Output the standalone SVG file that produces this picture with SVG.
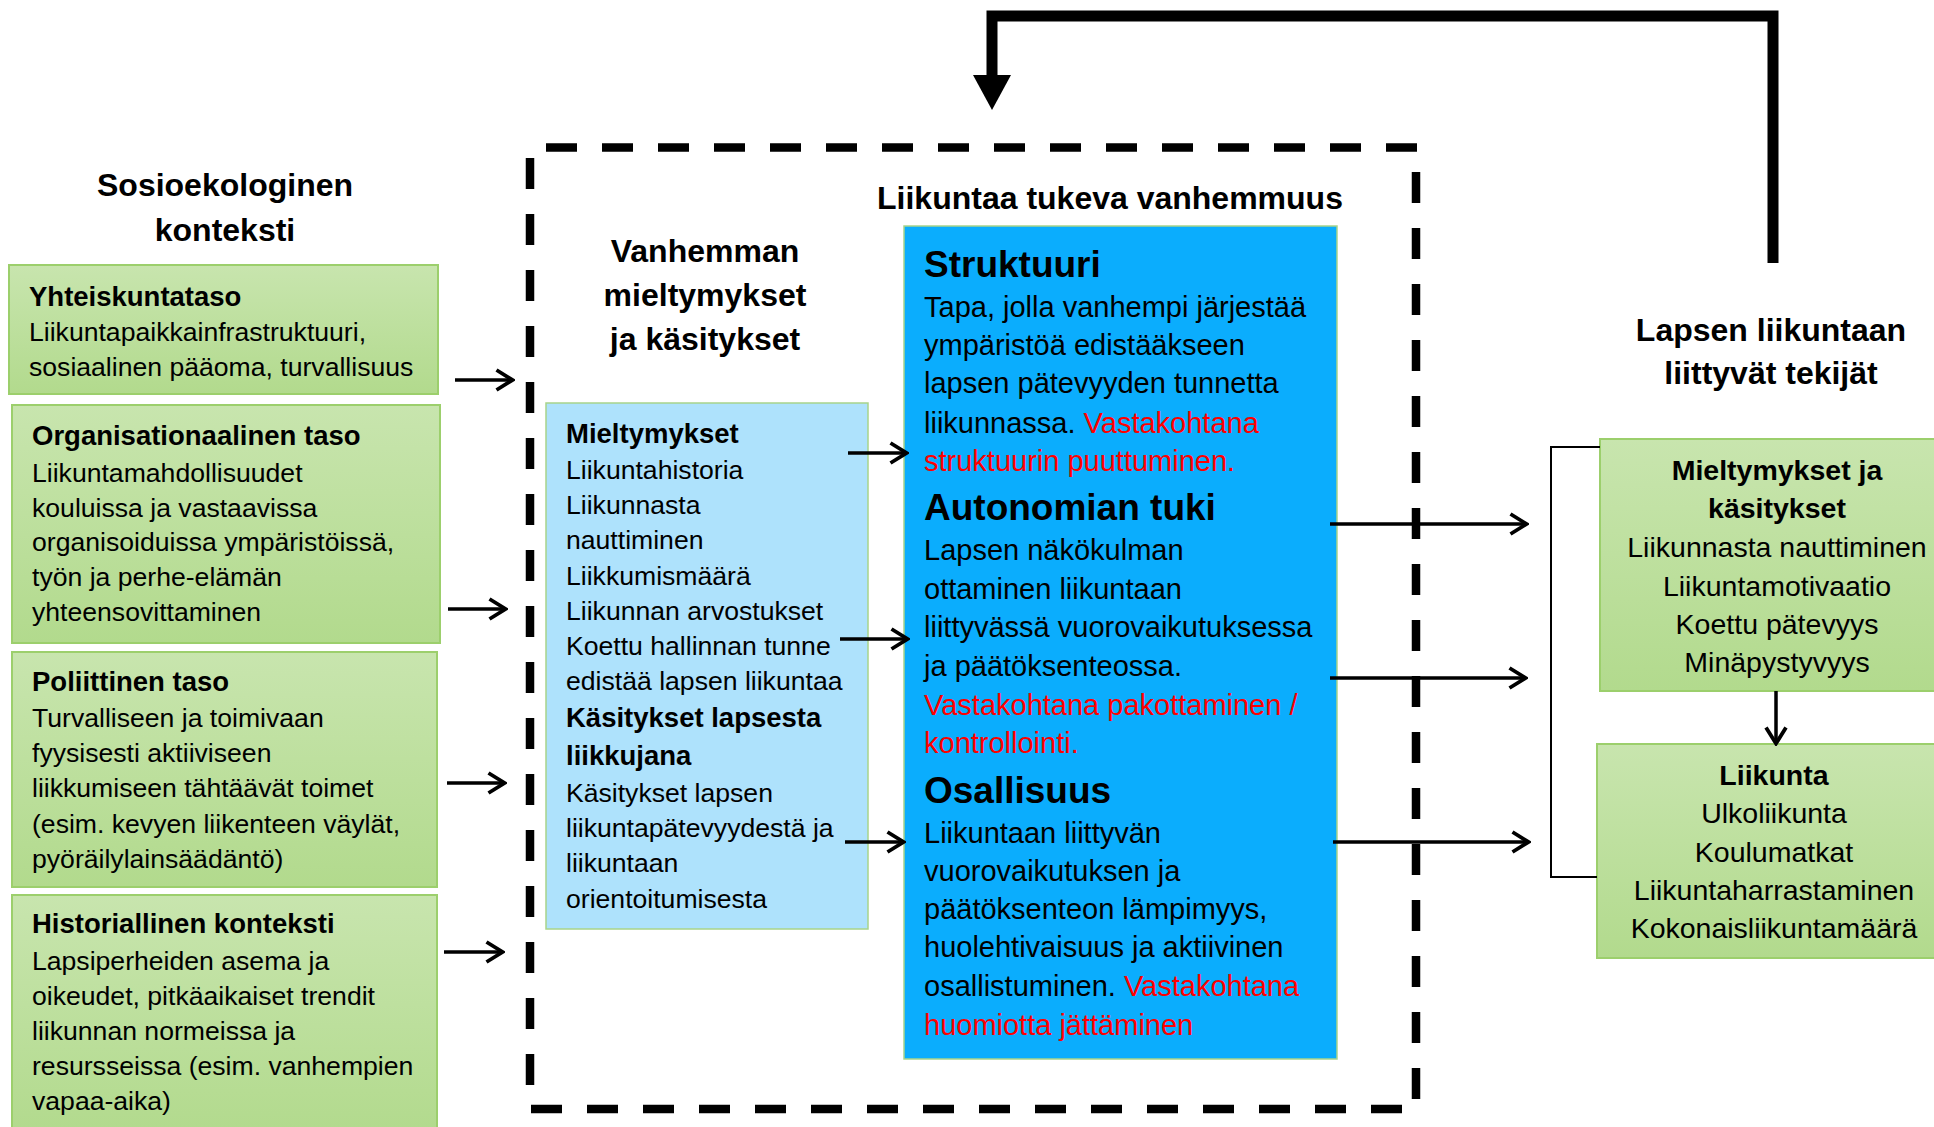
<svg xmlns="http://www.w3.org/2000/svg" width="1934" height="1127" viewBox="0 0 1934 1127">
<style>
text{font-family:"Liberation Sans",Arial,sans-serif;fill:#000}
.t{font-size:32px;font-weight:bold}
.h{font-size:27.5px;font-weight:bold}
.b{font-size:26.6px}
.bb{font-size:29px}
.bh{font-size:37px;font-weight:bold}
.rh{font-size:28.5px;font-weight:bold}
.rb{font-size:28.5px}
.red{fill:#FF0000}
.g{fill:url(#gr);stroke:#9CCF6C;stroke-width:2}
.dash{fill:none;stroke:#000;stroke-width:8.5;stroke-dasharray:31 25}
.ar{fill:none;stroke:#000;stroke-width:3.5;marker-end:url(#chev)}
</style>
<defs>
<linearGradient id="gr" x1="0" y1="0" x2="0" y2="1">
<stop offset="0" stop-color="#C8E5AE"/>
<stop offset="1" stop-color="#B2DA8D"/>
</linearGradient>
<marker id="chev" viewBox="0 0 20 24" refX="18.5" refY="12" markerWidth="20" markerHeight="24" orient="auto" markerUnits="userSpaceOnUse">
<path d="M2,2 L18,12 L2,22" fill="none" stroke="#000" stroke-width="3.8"/>
</marker>
</defs>
<rect width="1934" height="1127" fill="#fff"/>

<g id="title-socio">
<text class="t" x="225" y="196" text-anchor="middle">Sosioekologinen</text>
<text class="t" x="225" y="241" text-anchor="middle">konteksti</text>
</g>

<g id="node-yhteiskunta">
<rect class="g" x="9" y="265" width="429" height="129"/>
<text class="h" x="29" y="306">Yhteiskuntataso</text>
<text class="b" x="29" y="341">Liikuntapaikkainfrastruktuuri,</text>
<text class="b" x="29" y="376">sosiaalinen pääoma, turvallisuus</text>
</g>

<g id="node-organisaatio">
<rect class="g" x="12" y="405" width="428" height="238"/>
<text class="h" x="32" y="445">Organisationaalinen taso</text>
<text class="b" x="32" y="482">Liikuntamahdollisuudet</text>
<text class="b" x="32" y="517">kouluissa ja vastaavissa</text>
<text class="b" x="32" y="551">organisoiduissa ympäristöissä,</text>
<text class="b" x="32" y="586">työn ja perhe-elämän</text>
<text class="b" x="32" y="621">yhteensovittaminen</text>
</g>

<g id="node-poliittinen">
<rect class="g" x="12" y="652" width="425" height="235"/>
<text class="h" x="32" y="691">Poliittinen taso</text>
<text class="b" x="32" y="727">Turvalliseen ja toimivaan</text>
<text class="b" x="32" y="762">fyysisesti aktiiviseen</text>
<text class="b" x="32" y="797">liikkumiseen tähtäävät toimet</text>
<text class="b" x="32" y="833">(esim. kevyen liikenteen väylät,</text>
<text class="b" x="32" y="868">pyöräilylainsäädäntö)</text>
</g>

<g id="node-historiallinen">
<rect class="g" x="12" y="895" width="425" height="240"/>
<text class="h" x="32" y="933">Historiallinen konteksti</text>
<text class="b" x="32" y="970">Lapsiperheiden asema ja</text>
<text class="b" x="32" y="1005">oikeudet, pitkäaikaiset trendit</text>
<text class="b" x="32" y="1040">liikunnan normeissa ja</text>
<text class="b" x="32" y="1075">resursseissa (esim. vanhempien</text>
<text class="b" x="32" y="1110">vapaa-aika)</text>
</g>

<g id="frame-parenting">
<path class="dash" d="M546,147.5 H1418"/>
<path class="dash" d="M530,158 V1105"/>
<path class="dash" d="M1416,172 V1100"/>
<path class="dash" d="M531,1109 H1418"/>
<text class="t" x="1110" y="209" text-anchor="middle">Liikuntaa tukeva vanhemmuus</text>
</g>

<g id="title-vanhemman">
<text class="t" x="705" y="262" text-anchor="middle">Vanhemman</text>
<text class="t" x="705" y="306" text-anchor="middle">mieltymykset</text>
<text class="t" x="705" y="350" text-anchor="middle">ja käsitykset</text>
</g>

<g id="node-mieltymykset">
<rect x="546" y="403" width="322" height="526" fill="#AEE2FC" stroke="#A8D48A" stroke-width="1.5"/>
<text class="h" x="566" y="443">Mieltymykset</text>
<text class="b" x="566" y="479">Liikuntahistoria</text>
<text class="b" x="566" y="514">Liikunnasta</text>
<text class="b" x="566" y="549">nauttiminen</text>
<text class="b" x="566" y="585">Liikkumismäärä</text>
<text class="b" x="566" y="620">Liikunnan arvostukset</text>
<text class="b" x="566" y="655">Koettu hallinnan tunne</text>
<text class="b" x="566" y="690">edistää lapsen liikuntaa</text>
<text class="h" x="566" y="727">Käsitykset lapsesta</text>
<text class="h" x="566" y="765">liikkujana</text>
<text class="b" x="566" y="802">Käsitykset lapsen</text>
<text class="b" x="566" y="837">liikuntapätevyydestä ja</text>
<text class="b" x="566" y="872">liikuntaan</text>
<text class="b" x="566" y="908">orientoitumisesta</text>
</g>

<g id="node-vanhemmuus">
<rect x="904" y="226" width="433" height="833" fill="#0BADFD" stroke="#A8D48A" stroke-width="1.5"/>
<text class="bh" x="924" y="277">Struktuuri</text>
<text class="bb" x="924" y="317">Tapa, jolla vanhempi järjestää</text>
<text class="bb" x="924" y="355">ympäristöä edistääkseen</text>
<text class="bb" x="924" y="393">lapsen pätevyyden tunnetta</text>
<text class="bb" x="924" y="433">liikunnassa. <tspan class="red">Vastakohtana</tspan></text>
<text class="bb red" x="924" y="471">struktuurin puuttuminen.</text>
<text class="bh" x="924" y="520">Autonomian tuki</text>
<text class="bb" x="924" y="560">Lapsen näkökulman</text>
<text class="bb" x="924" y="599">ottaminen liikuntaan</text>
<text class="bb" x="924" y="637">liittyvässä vuorovaikutuksessa</text>
<text class="bb" x="924" y="676">ja päätöksenteossa.</text>
<text class="bb red" x="924" y="715">Vastakohtana pakottaminen /</text>
<text class="bb red" x="924" y="753">kontrollointi.</text>
<text class="bh" x="924" y="803">Osallisuus</text>
<text class="bb" x="924" y="843">Liikuntaan liittyvän</text>
<text class="bb" x="924" y="881">vuorovaikutuksen ja</text>
<text class="bb" x="924" y="919">päätöksenteon lämpimyys,</text>
<text class="bb" x="924" y="957">huolehtivaisuus ja aktiivinen</text>
<text class="bb" x="924" y="996">osallistuminen. <tspan class="red">Vastakohtana</tspan></text>
<text class="bb red" x="924" y="1035">huomiotta jättäminen</text>
</g>

<g id="title-lapsen">
<text class="t" x="1771" y="341" text-anchor="middle">Lapsen liikuntaan</text>
<text class="t" x="1771" y="384" text-anchor="middle">liittyvät tekijät</text>
</g>

<g id="node-lapsen-mieltymykset">
<rect class="g" x="1600" y="439" width="345" height="252"/>
<text class="rh" x="1777" y="480" text-anchor="middle">Mieltymykset ja</text>
<text class="rh" x="1777" y="518" text-anchor="middle">käsitykset</text>
<text class="rb" x="1777" y="557" text-anchor="middle">Liikunnasta nauttiminen</text>
<text class="rb" x="1777" y="596" text-anchor="middle">Liikuntamotivaatio</text>
<text class="rb" x="1777" y="634" text-anchor="middle">Koettu pätevyys</text>
<text class="rb" x="1777" y="672" text-anchor="middle">Minäpystyvyys</text>
</g>

<g id="node-liikunta">
<rect class="g" x="1597" y="744" width="348" height="214"/>
<text class="rh" x="1774" y="785" text-anchor="middle">Liikunta</text>
<text class="rb" x="1774" y="823" text-anchor="middle">Ulkoliikunta</text>
<text class="rb" x="1774" y="862" text-anchor="middle">Koulumatkat</text>
<text class="rb" x="1774" y="900" text-anchor="middle">Liikuntaharrastaminen</text>
<text class="rb" x="1774" y="938" text-anchor="middle">Kokonaisliikuntamäärä</text>
</g>

<g id="connectors">
<path class="ar" d="M455,380 H513"/>
<path class="ar" d="M448,609 H506"/>
<path class="ar" d="M447,783 H505"/>
<path class="ar" d="M444,952 H503"/>
<path class="ar" d="M848,453 H907"/>
<path class="ar" d="M840,639 H908"/>
<path class="ar" d="M845,842 H904"/>
<path class="ar" d="M1330,524 H1527"/>
<path class="ar" d="M1330,678 H1526"/>
<path class="ar" d="M1333,842 H1529"/>
<path class="ar" d="M1776,691 V744"/>
<path d="M1600,447 H1551 V877 H1597" fill="none" stroke="#000" stroke-width="2"/>
<path d="M1773,263 V16 H992 V80" fill="none" stroke="#000" stroke-width="11"/>
<path d="M973,75 L1011,75 L992,110 Z" fill="#000"/>
</g>
</svg>
